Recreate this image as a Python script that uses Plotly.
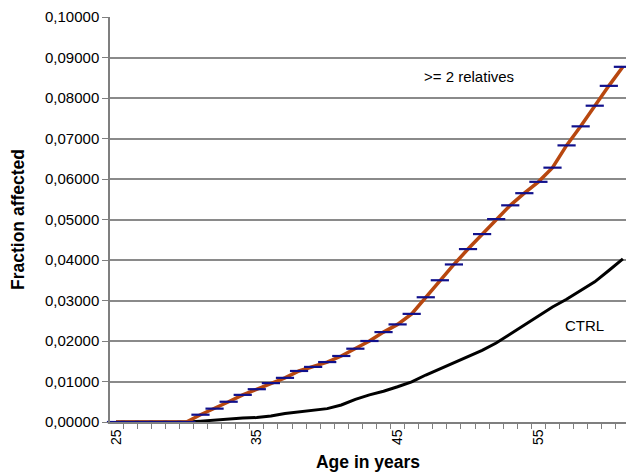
import plotly.graph_objects as go

ages = list(range(25, 62))
relatives2 = [0, 0, 0, 0, 0, 0,
              0.0018, 0.0033, 0.0050, 0.0067, 0.0081, 0.0096, 0.0109, 0.0126,
              0.0136, 0.0148, 0.0163, 0.0181, 0.0200, 0.0222, 0.0241, 0.0267,
              0.0308, 0.0350, 0.0389, 0.0427, 0.0464, 0.0501, 0.0535, 0.0565,
              0.0593, 0.0628, 0.0683, 0.0730, 0.0781, 0.0830, 0.0877]
ctrl = [0, 0, 0, 0, 0, 0,
        0.0002, 0.0005, 0.0007, 0.0010, 0.0011, 0.0015, 0.0021, 0.0025,
        0.0029, 0.0033, 0.0042, 0.0056, 0.0067, 0.0076, 0.0087, 0.0099,
        0.0116, 0.0131, 0.0146, 0.0162, 0.0177, 0.0195, 0.0217, 0.0240,
        0.0262, 0.0284, 0.0303, 0.0325, 0.0346, 0.0374, 0.0403]
x_tick_vals = [25, 35, 45, 55]
y_tick_vals = [0.00, 0.01, 0.02, 0.03, 0.04, 0.05, 0.06, 0.07, 0.08, 0.09, 0.10]

FONT = "Liberation Sans, Arial, sans-serif"

fig = go.Figure()
fig.add_trace(go.Scatter(
    x=ages, y=ctrl, mode="lines", name="CTRL",
    line=dict(color="#000000", width=3), cliponaxis=False))
fig.add_trace(go.Scatter(
    x=ages, y=relatives2, mode="lines+markers", name=">= 2 relatives",
    line=dict(color="#B8470F", width=3.5),
    marker=dict(symbol="line-ew", size=13, line=dict(color="#10108C", width=2.2)),
    cliponaxis=False))

fig.add_annotation(x=0.605, y=0.0853, xref="paper", yref="y", text=">= 2 relatives",
                   showarrow=False, xanchor="left", yanchor="middle",
                   font=dict(family=FONT, size=15, color="#000000"))
fig.add_annotation(x=0.877, y=0.0239, xref="paper", yref="y", text="CTRL",
                   showarrow=False, xanchor="left", yanchor="middle",
                   font=dict(family=FONT, size=15, color="#000000"))

fig.update_layout(
    width=626, height=473,
    margin=dict(l=110, r=0, t=17, b=51),
    paper_bgcolor="white", plot_bgcolor="white",
    showlegend=False,
    separators=",.",
    font=dict(family=FONT, size=12, color="#000000"),
    xaxis=dict(
        range=[24.574, 61.22],
        tickmode="array", tickvals=x_tick_vals, ticktext=[str(v) for v in x_tick_vals],
        tickangle=-90, ticks="", ticklen=0,
        showgrid=False, zeroline=False,
        showline=True, linecolor="#7f7f7f", linewidth=1.5,
        tickfont=dict(family=FONT, size=14, color="#000000"),
        minor=dict(ticks="outside", tick0=24.5, dtick=1, ticklen=5,
                   tickcolor="#7f7f7f", tickwidth=1, showgrid=False),
        title=dict(text="<b>Age in years</b>", standoff=12,
                   font=dict(family=FONT, size=17.5, color="#000000")),
    ),
    yaxis=dict(
        range=[0, 0.1],
        tickmode="array", tickvals=y_tick_vals, tickformat=".5f",
        ticks="outside", ticklen=6, tickcolor="#7f7f7f", tickwidth=1,
        showgrid=True, gridcolor="#8a8a8a", gridwidth=1.7,
        zeroline=False,
        showline=True, linecolor="#7f7f7f", linewidth=1.5,
        tickfont=dict(family=FONT, size=15, color="#000000"),
        title=dict(text="<b>Fraction affected</b>", standoff=16,
                   font=dict(family=FONT, size=17.5, color="#000000")),
    ),
)

fig.write_html("out.html",
               config={"displayModeBar": False},
               post_script="document.body.style.margin='0px';document.body.style.overflow='hidden';")
